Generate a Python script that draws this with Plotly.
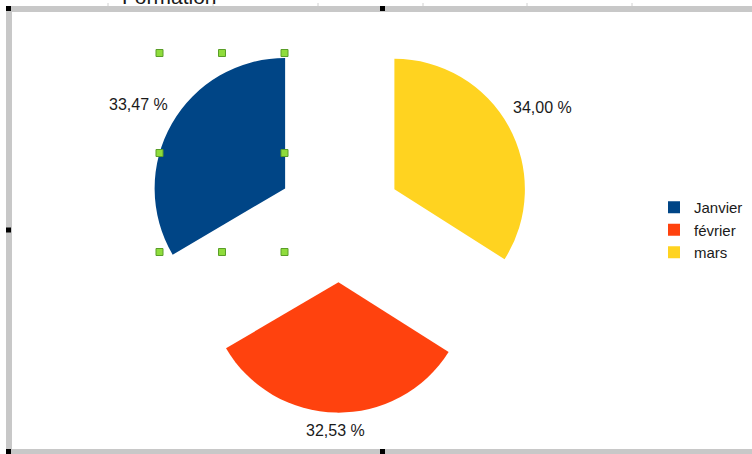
import math
import plotly.graph_objects as go

# Data
months = ["Janvier", "février", "mars"]
values = [33.47, 32.53, 34.00]
label_texts = ["33,47 %", "32,53 %", "34,00 %"]
colors = ["#004586", "#ff420e", "#ffd320"]

W, H = 752, 454

def px(x):
    return x / W

def py(y):
    return 1 - y / H

# pie geometry (pixels)
PULL = 0.48
CX, CY, R = 339.5, 219.5, 130.5
HALF = R * (1 + PULL)          # plotly: r = size / (2 + 2*pull)
total = sum(values)
# first slice (Janvier) ends at 12 o'clock, the others follow counter-clockwise
start_rotation = -values[0] / total * 360

fig = go.Figure()
fig.add_trace(go.Pie(
    labels=months,
    values=values,
    textinfo="none",
    marker=dict(colors=colors, line=dict(width=0)),
    sort=False,
    direction="counterclockwise",
    rotation=start_rotation,
    pull=[PULL] * len(values),
    domain=dict(x=[px(CX - HALF), px(CX + HALF)], y=[py(CY + HALF), py(CY - HALF)]),
    hoverinfo="label+percent",
))

# value labels placed outside each slice, along its mid-angle
annotations = []
cum = 0.0
for lab, v in zip(label_texts, values):
    a0 = (start_rotation + values[0] / total * 360) - cum / total * 360
    a1 = a0 - v / total * 360
    mid = math.radians((a0 + a1) / 2)
    dx, dy = math.sin(mid), -math.cos(mid)
    support = 29 * abs(dx) + 7 * abs(dy)
    L = R * PULL + R + 10 + support
    lx, ly = CX + L * dx, CY + L * dy
    annotations.append(dict(
        text=lab, xref="paper", yref="paper", x=px(lx), y=py(ly),
        xanchor="center", yanchor="middle", showarrow=False,
        font=dict(family="Liberation Sans, Arial, sans-serif", size=16, color="#1a1a1a"),
    ))
    cum += v

annotations.append(dict(
    text="Formation", xref="paper", yref="paper",
    x=px(169), y=py(10), xanchor="center", yanchor="bottom",
    showarrow=False,
    font=dict(family="Liberation Sans, Arial, sans-serif", size=21, color="#1a1a1a"),
))

shapes = []
grey = "#c8c8c8"
# frame (editing border of the embedded chart)
shapes.append(dict(type="rect", xref="paper", yref="paper",
                   x0=px(6), x1=1.0, y0=py(12), y1=py(6),
                   fillcolor=grey, line=dict(width=0), layer="above"))
shapes.append(dict(type="rect", xref="paper", yref="paper",
                   x0=px(6), x1=px(12), y0=0, y1=py(6),
                   fillcolor=grey, line=dict(width=0), layer="above"))
shapes.append(dict(type="rect", xref="paper", yref="paper",
                   x0=px(6), x1=1.0, y0=0, y1=py(449),
                   fillcolor=grey, line=dict(width=0), layer="above"))
# ruler ticks
for tx in [108, 213, 318, 423, 527, 632]:
    shapes.append(dict(type="line", xref="paper", yref="paper",
                       x0=px(tx), x1=px(tx), y0=py(6), y1=py(3),
                       line=dict(color="#d0d0d0", width=1)))
# black handles of the frame
for (hx, hy) in [(8.5, 8.5), (382.5, 8.5), (8.5, 230), (8.5, 451.5), (382.5, 451.5)]:
    shapes.append(dict(type="rect", xref="paper", yref="paper",
                       x0=px(hx - 2.5), x1=px(hx + 2.5), y0=py(hy + 2.5), y1=py(hy - 2.5),
                       fillcolor="#000000", line=dict(width=0), layer="above"))
# green selection handles
for (hx, hy) in [(159.5, 53), (222, 53), (284.5, 53), (159.5, 153), (284.5, 153),
                 (159.5, 252), (222, 252), (284.5, 252)]:
    shapes.append(dict(type="rect", xref="paper", yref="paper",
                       x0=px(hx - 3.5), x1=px(hx + 3.5), y0=py(hy + 3.5), y1=py(hy - 3.5),
                       fillcolor="#8fdc3c", line=dict(color="#5a9e28", width=1), layer="above"))

fig.update_layout(
    width=W, height=H,
    autosize=False,
    margin=dict(l=0, r=0, t=0, b=0, pad=0, autoexpand=False),
    paper_bgcolor="white",
    plot_bgcolor="white",
    font=dict(family="Liberation Sans, Arial, sans-serif", color="#1a1a1a"),
    showlegend=True,
    legend=dict(
        x=px(654), y=py(191), xanchor="left", yanchor="top",
        font=dict(size=15, color="#1a1a1a"),
        bgcolor="rgba(0,0,0,0)",
    ),
    shapes=shapes,
    annotations=annotations,
)

fig.write_html(
    "out.html",
    config={"responsive": False, "displayModeBar": False},
    post_script="document.body.style.margin='0';document.body.style.overflow='hidden';",
)
